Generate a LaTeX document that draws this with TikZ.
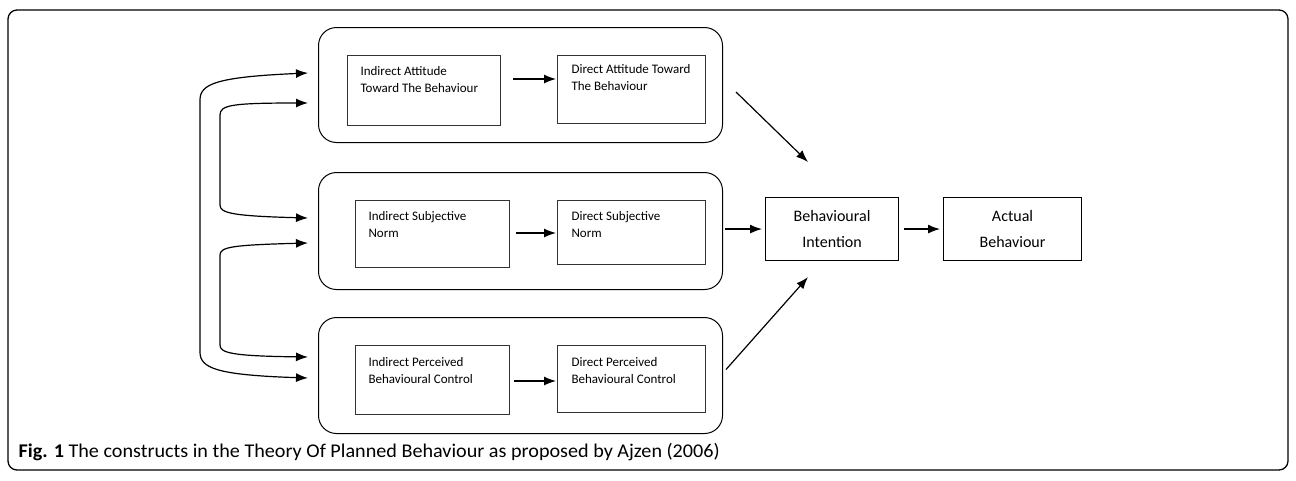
\documentclass[tikz,border=0pt]{standalone}
\usepackage{fontspec}
\setmainfont{Carlito}
\usetikzlibrary{arrows.meta,positioning}
\begin{document}
\begin{tikzpicture}[x=1pt,y=-1pt,
  line width=1.1pt,
  frame/.style={draw, rounded corners=9pt, line width=1.3pt},
  grp/.style={draw, rounded corners=18pt, line width=1pt},
  ibox/.style={draw, line width=1pt, draw=black!80},
  mbox/.style={draw, line width=1.1pt, align=center, font=\fontsize{16}{26}\selectfont},
  itext/.style={anchor=north west, align=left, inner sep=0pt, font=\fontsize{13}{17}\selectfont},
  arr/.style={-{Latex[length=12pt,width=9pt]}, line width=1.2pt},
]
\useasboundingbox (0,0) rectangle (1296,480);
% outer frame
\draw[frame] (8,10) rectangle (1288,470);
% groups
\node[grp, minimum width=404pt, minimum height=115pt, anchor=north west] (g1) at (318,27) {};
\node[grp, minimum width=404pt, minimum height=117pt, anchor=north west] (g2) at (318,172) {};
\node[grp, minimum width=404pt, minimum height=116pt, anchor=north west] (g3) at (318,317) {};
% inner boxes
\node[ibox, minimum width=153pt, minimum height=70pt, anchor=north west] (a1) at (347,55) {};
\node[ibox, minimum width=148pt, minimum height=68pt, anchor=north west] (a2) at (557,55) {};
\node[ibox, minimum width=154pt, minimum height=67pt, anchor=north west] (s1) at (355,200) {};
\node[ibox, minimum width=148pt, minimum height=64pt, anchor=north west] (s2) at (557,200) {};
\node[ibox, minimum width=154pt, minimum height=69pt, anchor=north west] (p1) at (355,345) {};
\node[ibox, minimum width=148pt, minimum height=67pt, anchor=north west] (p2) at (557,345) {};
% inner texts
\node[itext] (ta1) at ([shift={(13,11)}]a1.north west) {Indirect Attitude\\Toward The Behaviour};
\node[itext] (ta2) at ([shift={(14,9)}]a2.north west) {Direct Attitude Toward\\The Behaviour};
\node[itext] (ts1) at ([shift={(13,11)}]s1.north west) {Indirect Subjective\\Norm};
\node[itext] (ts2) at ([shift={(14,11)}]s2.north west) {Direct Subjective\\Norm};
\node[itext] (tp1) at ([shift={(13,12)}]p1.north west) {Indirect Perceived\\Behavioural Control};
\node[itext] (tp2) at ([shift={(14,12)}]p2.north west) {Direct Perceived\\Behavioural Control};
% main boxes
\node[mbox, minimum width=133pt, minimum height=63pt, anchor=north west] (bi) at (765,197) {Behavioural\\Intention};
\node[mbox, minimum width=138pt, minimum height=63pt, anchor=north west] (ab) at (943,197) {Actual\\Behaviour};
% inner arrows
\draw[arr] ([xshift=12pt]a1.east |- 0,79) coordinate (x1) -- ([xshift=-1pt]a2.west |- x1);
\draw[arr] ([xshift=6pt]s1.east |- 0,233) coordinate (x2) -- ([xshift=-1pt]s2.west |- x2);
\draw[arr] ([xshift=4pt]p1.east |- 0,381) coordinate (x3) -- ([xshift=-1pt]p2.west |- x3);
% to intention
\draw[arr] ([xshift=2pt]g2.east |- bi.west) -- ([xshift=-3pt]bi.west);
\draw[arr] ([xshift=5pt]bi.east) -- ([xshift=-3pt]ab.west);
\draw[arr] ([shift={(13,7)}]g1.east) -- ([shift={(43,-35)}]bi.north west);
\draw[arr] ([shift={(3,-6)}]g3.east) -- ([shift={(43,16)}]bi.south west);
% left curved arrows
\coordinate (o1) at (200,100);
\coordinate (o2) at (200,352);
\coordinate (i1) at (220,115);
\coordinate (i2) at (220,205);
\coordinate (i3) at (220,255);
\coordinate (i4) at (220,345);
\draw[arr] (o2) -- (o1) .. controls (200,84) and (216,77) .. ([xshift=-10pt]g1.west |- 0,73);
\draw[arr] (o2) .. controls (200,368) and (216,375) .. ([xshift=-10pt]g3.west |- 0,378);
\draw[arr] (i2) -- (i1) .. controls (220,105) and (232,103) .. ([xshift=-10pt]g1.west |- 0,103);
\draw[arr] (i2) .. controls (220,213) and (232,216) .. ([xshift=-10pt]g2.west |- 0,218);
\draw[arr] (i4) -- (i3) .. controls (220,247) and (232,245) .. ([xshift=-10pt]g2.west |- 0,243);
\draw[arr] (i4) .. controls (220,353) and (232,356) .. ([xshift=-10pt]g3.west |- 0,357);
% caption
\node[anchor=base west, inner sep=0pt, font=\fontsize{18}{20}\selectfont] (cap) at (18,457) {\scalebox{1.12}[1.08]{\textbf{Fig. 1} The constructs in the Theory Of Planned Behaviour as proposed by Ajzen (2006)}};
\end{tikzpicture}
\end{document}
